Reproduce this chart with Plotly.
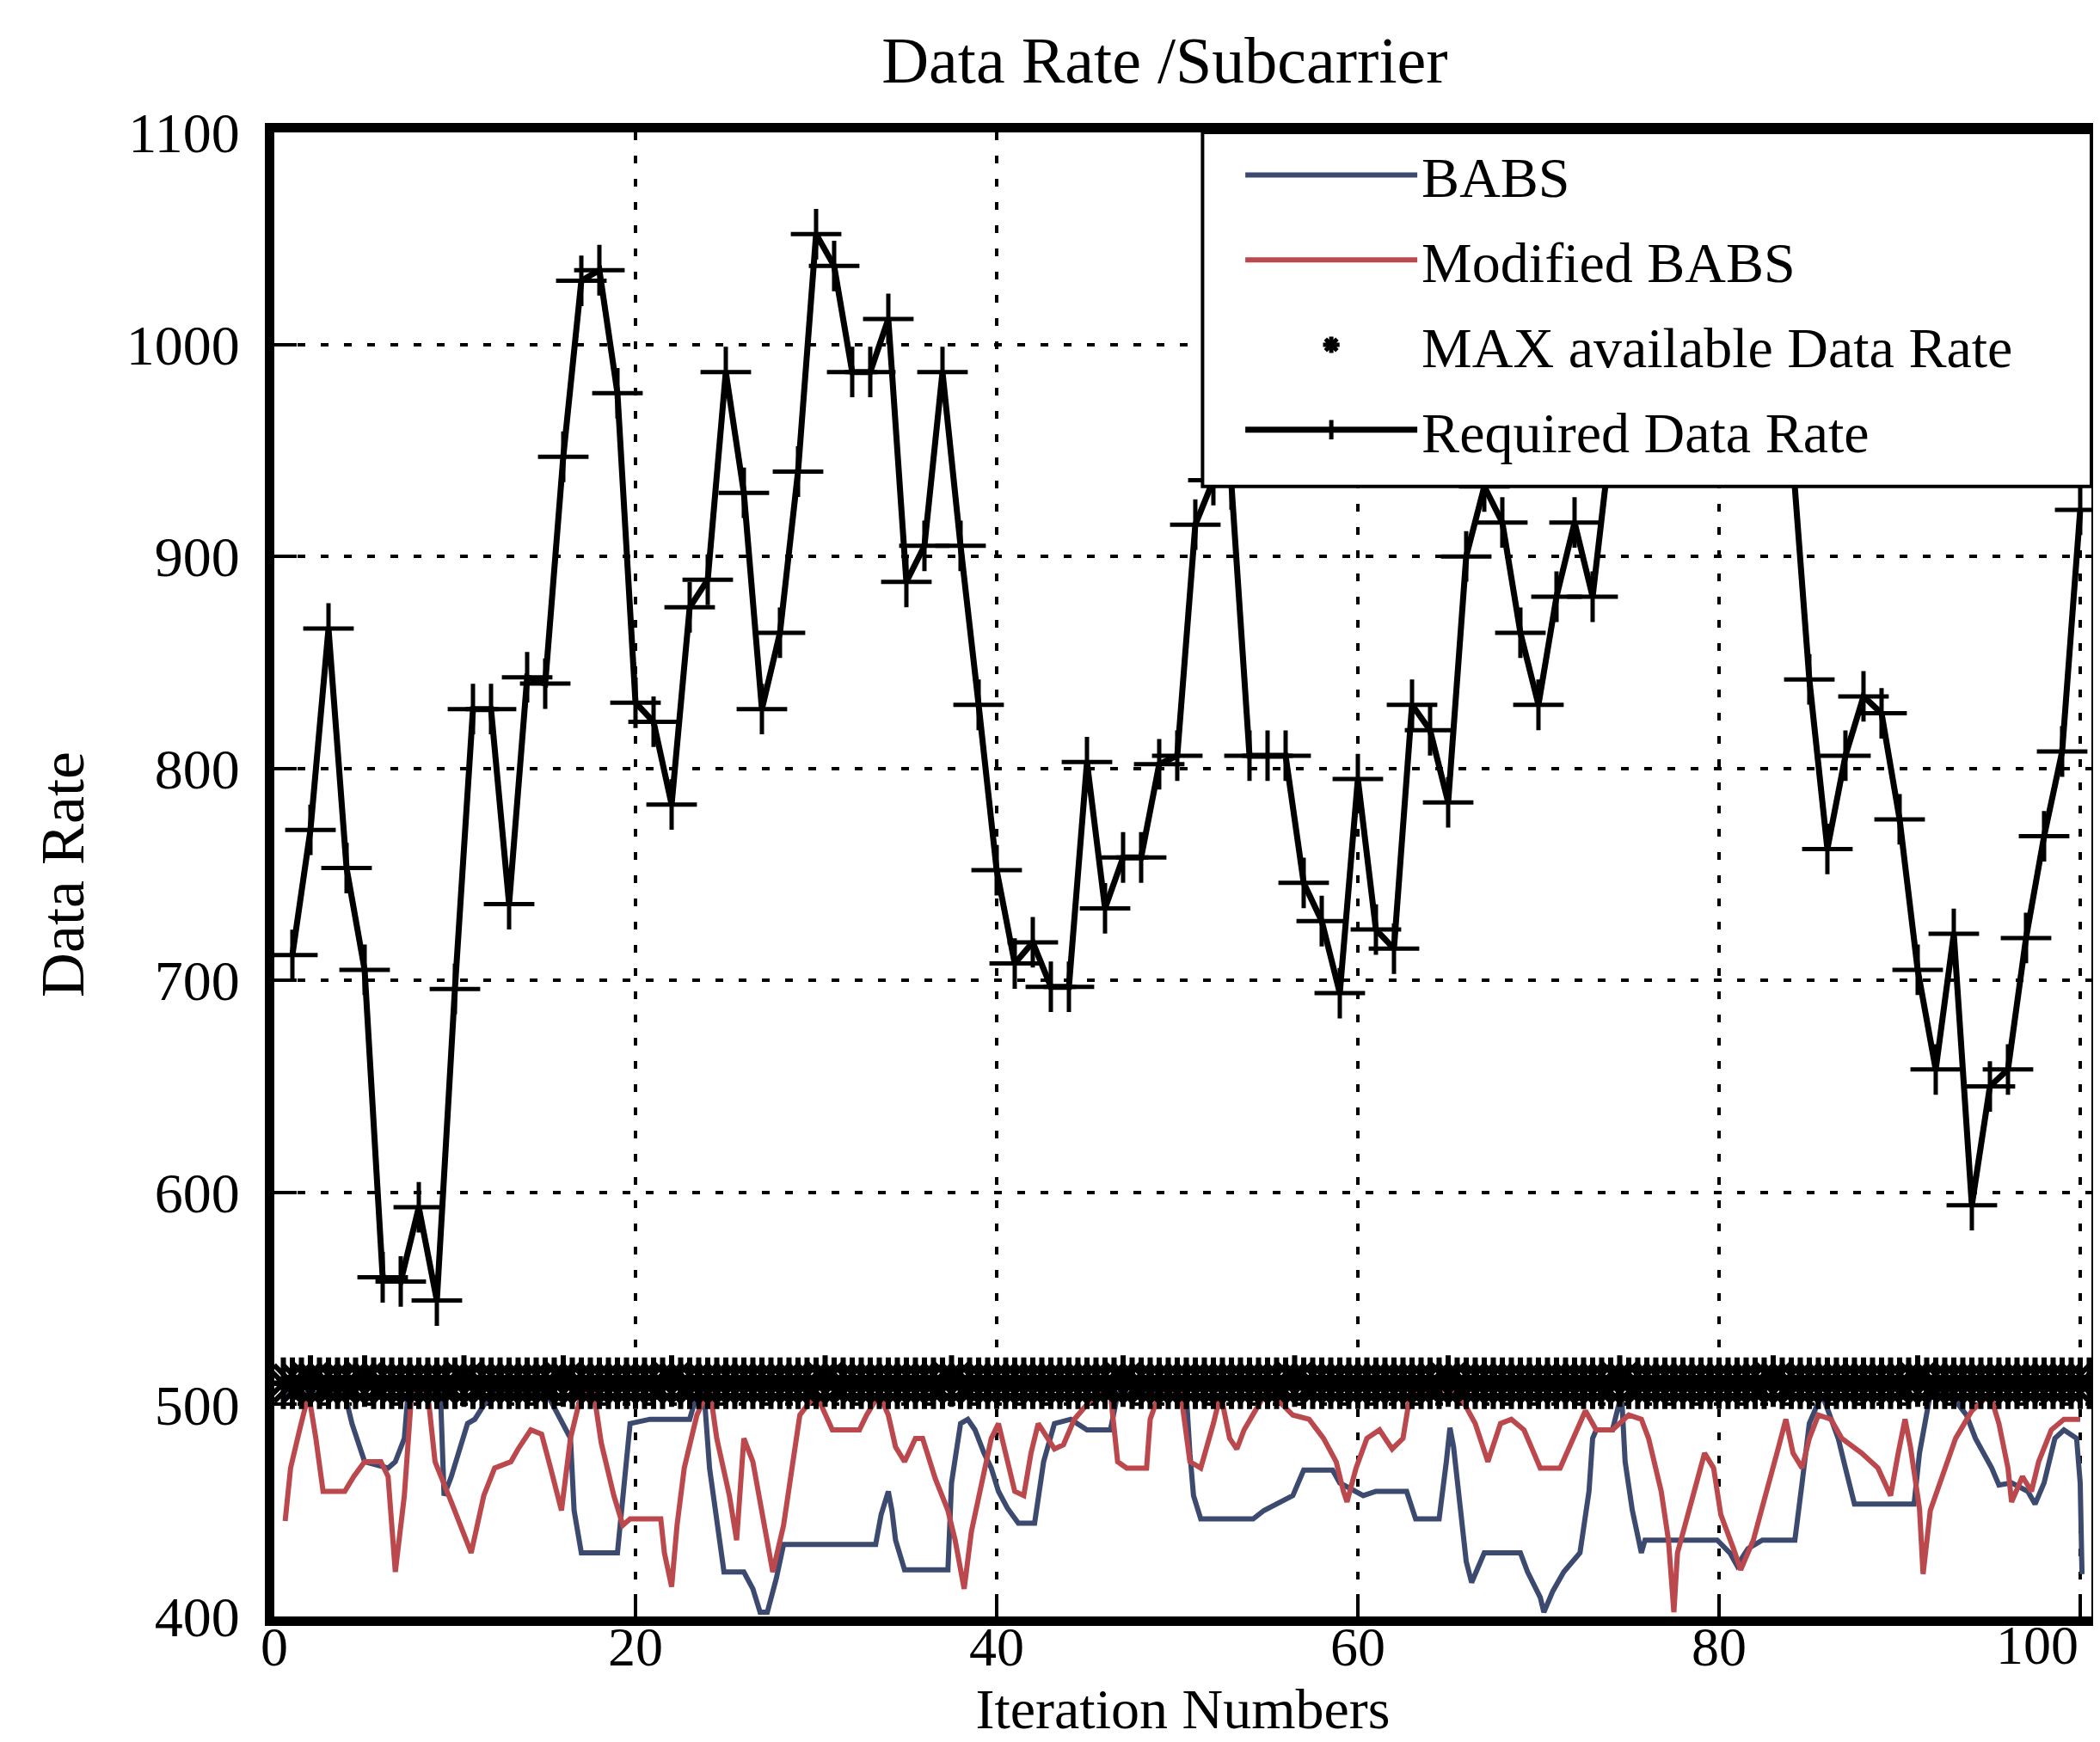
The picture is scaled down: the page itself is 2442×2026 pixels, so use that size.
import numpy as np
import plotly.graph_objects as go

# ---------------- data ----------------
iterations = list(range(1, 101))
required_rate = [712, 771, 866, 753, 705, 560, 558, 593, 549, 696,
                 828, 828, 736, 843, 840, 947, 1030, 1035, 977, 831,
                 822, 783, 876, 889, 987, 930, 828, 864, 940, 1052,
                 1037, 987, 987, 1012, 888, 905, 987, 905, 830, 752,
                 708, 718, 697, 697, 803, 734, 758, 758, 802, 806,
                 915, 936, 934, 806, 806, 806, 746, 728, 694, 795,
                 724, 715, 830, 818, 784, 900, 933, 916, 864, 830,
                 881, 916, 881, 955, 985, 1010, 975, 1000, 1025, 990,
                 965, 1000, 980, 955, 842, 762, 806, 834, 826, 776,
                 705, 658, 722, 594, 650, 658, 720, 768, 808, 922]

babs_x = [0.5, 3.9, 4.3, 5.0, 6.3, 6.7, 7.2, 7.4, 9.2, 9.4, 9.8, 10.2, 10.7, 11.1, 12.0, 15.1,
          16.4, 16.6, 17.0, 19.0, 19.5, 19.7, 20.8, 23.0, 23.4, 23.8, 24.1, 24.5, 24.9, 26.0,
          26.5, 26.9, 27.3, 27.8, 28.2, 33.3, 33.6, 34.0, 34.2, 34.4, 34.9, 37.3, 37.5, 38.0,
          38.4, 38.8, 39.3, 39.7, 40.1, 40.6, 41.2, 42.1, 42.4, 42.6, 43.2, 44.1, 45.0, 46.3,
          46.7, 50.5, 50.7, 50.9, 51.3, 54.2, 54.8, 55.5, 56.4, 57.0, 58.6, 59.0, 59.9, 60.3,
          61.0, 62.7, 63.2, 64.5, 64.9, 65.1, 65.3, 65.6, 66.0, 66.3, 66.9, 67.0, 69.0, 69.4,
          70.1, 70.3, 70.8, 71.4, 72.3, 72.8, 73.0, 73.2, 74.1, 74.6, 74.8, 75.2, 75.7, 75.9,
          79.9, 80.6, 81.0, 81.6, 82.4, 84.2, 84.6, 85.0, 85.7, 86.6, 87.0, 87.5, 90.8, 91.1,
          91.7, 92.8, 93.7, 94.2, 95.1, 95.5, 96.2, 97.1, 97.5, 98.0, 98.6, 99.1, 99.8, 100.0,
          100.1]
babs_rate = [505, 505, 491, 473, 470, 473, 484, 505, 505, 457, 466, 477, 491, 493, 505, 505,
             484, 450, 430, 430, 470, 491, 493, 493, 505, 505, 470, 444, 421, 421,
             413, 402, 402, 418, 434, 434, 448, 459, 450, 436, 422, 422, 463, 491,
             493, 488, 477, 470, 459, 451, 444, 444, 460, 473, 491, 493, 488, 488,
             505, 505, 477, 457, 446, 446, 450, 453, 457, 469, 469, 463, 459, 457,
             459, 459, 446, 446, 473, 489, 480, 457, 426, 416, 427, 430, 430, 421,
             409, 402, 412, 421, 430, 459, 484, 488, 488, 505, 473, 450, 430, 436,
             436, 430, 424, 432, 436, 436, 463, 491, 505, 484, 470, 453, 453, 477,
             505, 505, 495, 484, 470, 462, 463, 459, 453, 463, 484, 488, 484, 463,
             420]

mod_babs_x = [0.6, 0.9, 1.4, 1.9, 2.3, 2.7, 3.9, 4.4, 5.0, 5.9, 6.3, 6.7, 7.2, 7.6, 8.5, 8.9,
              9.8, 10.9, 11.6, 12.2, 13.1, 13.5, 14.2, 14.8, 15.3, 15.9, 16.4, 17.0, 17.7, 18.1,
              18.8, 19.3, 19.7, 21.4, 21.6, 22.0, 22.3, 22.7, 23.4, 24.1, 24.5, 25.2, 25.6, 26.0,
              26.5, 27.1, 27.6, 28.2, 28.7, 29.1, 30.0, 30.9, 32.4, 32.8, 33.5, 34.0, 34.4, 34.9,
              35.5, 35.9, 36.6, 37.3, 37.7, 38.2, 38.6, 39.05, 39.7, 40.1, 40.6, 41.0, 41.5, 41.9,
              42.3, 42.8, 43.2, 43.7, 44.3, 45.5, 46.3, 46.7, 47.2, 48.3, 48.5, 49.0, 50.2, 50.7,
              51.3, 52.0, 52.4, 52.9, 53.3, 53.7, 54.2, 55.0, 56.4, 57.3, 58.1, 58.8, 59.2, 59.4,
              59.9, 60.5, 61.2, 61.9, 62.5, 62.9, 64.7, 65.6, 66.5, 67.2, 67.9, 68.5, 69.2, 70.1,
              71.2, 71.9, 72.6, 73.2, 74.1, 75.0, 75.7, 76.1, 76.8, 77.2, 77.5, 77.7, 78.6, 79.2,
              79.7, 80.1, 80.8, 81.2, 81.9, 82.6, 83.3, 83.7, 84.1, 84.6, 85.0, 85.5, 86.2, 86.8,
              87.9, 88.8, 89.5, 89.9, 90.3, 90.6, 91.1, 91.3, 91.7, 92.4, 93.1, 94.0, 95.0, 95.5,
              96.0, 96.2, 96.8, 97.3, 97.7, 98.4, 99.1, 100.0]
mod_babs_rate = [445, 470, 488, 505, 484, 459, 459, 466, 473, 473, 466, 421, 457, 505, 505, 473,
                 454, 430, 457, 470, 473, 479, 488, 486, 470, 450, 484, 505, 505, 482,
                 457, 443, 446, 446, 430, 414, 443, 470, 495, 508, 484, 457, 436, 484,
                 473, 443, 421, 443, 470, 495, 505, 488, 488, 495, 505, 495, 480, 473,
                 484, 484, 465, 450, 436, 413, 440, 459, 484, 491, 473, 459, 457, 477,
                 491, 484, 479, 481, 493, 505, 505, 473, 470, 470, 493, 505, 505, 473,
                 470, 491, 505, 484, 479, 488, 495, 507, 495, 493, 484, 473, 459, 454,
                 470, 484, 488, 479, 484, 505, 507, 505, 491, 473, 491, 493, 488, 470,
                 470, 484, 497, 488, 488, 495, 493, 484, 459, 436, 402, 430, 457, 477,
                 470, 448, 432, 422, 436, 457, 480, 493, 477, 470, 484, 495, 493, 484,
                 477, 470, 457, 476, 493, 480, 451, 420, 450, 467, 484, 497, 505, 491,
                 470, 454, 466, 459, 473, 488, 493, 493]

# MAX available data rate, one reading every half iteration (0.5 ... 100.5)
max_x = list(np.arange(0.5, 100.51, 0.5))
max_rate = [
    510, 510, 510, 511, 510, 510, 510, 510, 510, 511, 510, 510, 510, 510, 510, 510, 510, 510, 510, 510,
    511, 510, 510, 510, 510, 510, 510, 510, 510, 510, 510, 511, 510, 510, 510, 510, 510, 510, 510, 510,
    510, 510, 510, 511, 510, 510, 510, 510, 510, 510, 510, 510, 510, 510, 510, 510, 510, 510, 510, 510,
    511, 510, 510, 510, 510, 510, 510, 510, 510, 510, 510, 510, 510, 510, 511, 510, 510, 510, 510, 510,
    510, 510, 510, 510, 510, 510, 510, 510, 510, 510, 510, 510, 510, 511, 510, 510, 510, 510, 510, 510,
    510, 510, 510, 510, 510, 510, 510, 510, 510, 510, 510, 510, 511, 510, 510, 510, 510, 510, 510, 510,
    510, 510, 510, 510, 510, 510, 510, 510, 510, 511, 510, 510, 510, 510, 510, 510, 510, 510, 510, 510,
    510, 510, 510, 510, 510, 510, 510, 510, 511, 510, 510, 510, 510, 510, 510, 510, 510, 510, 510, 510,
    510, 510, 510, 510, 510, 511, 510, 510, 510, 510, 510, 510, 510, 510, 510, 510, 510, 510, 510, 510,
    510, 511, 510, 510, 510, 510, 510, 510, 510, 510, 510, 510, 510, 510, 510, 510, 510, 510, 510, 510,
    510]

y_ticks = [400, 500, 600, 700, 800, 900, 1000, 1100]
y_tick_labels = ["400", "500", "600", "700", "800", "900", "1000", "1100"]
x_ticks = [0, 20, 40, 60, 80, 100]
x_tick_labels = ["0", "20", "40", "60", "80", ""]
last_x_label = "100"

# ---------------- figure ----------------
FONT = "Liberation Serif"
X_MAX = 100.62
fig = go.Figure()

fig.add_trace(go.Scatter(x=babs_x, y=babs_rate, mode="lines", name="BABS",
                         legendgroup="a", line=dict(color="#3c4a70", width=6)))
fig.add_trace(go.Scatter(x=mod_babs_x, y=mod_babs_rate, mode="lines", name="Modified BABS",
                         legendgroup="b", line=dict(color="#bb484c", width=6)))
fig.add_trace(go.Scatter(x=max_x, y=max_rate, mode="markers", name="MAX available Data Rate",
                         legendgroup="c",
                         marker=dict(symbol="asterisk-open", size=50, color="black",
                                     line=dict(color="black", width=6))))
fig.add_trace(go.Scatter(x=iterations, y=required_rate, mode="lines+markers",
                         name="Required Data Rate", legendgroup="d",
                         line=dict(color="black", width=7),
                         marker=dict(symbol="cross-thin-open", size=42, color="black",
                                     line=dict(color="black", width=5))))

axis_common = dict(
    showline=True, linecolor="black", linewidth=11, mirror=True,
    ticks="inside", ticklen=26, tickwidth=4, tickcolor="black",
    showgrid=True, gridcolor="black", gridwidth=4, griddash="9px,18px",
    zeroline=False, automargin=False,
)

fig.update_xaxes(range=[0, X_MAX], tickmode="array", tickvals=x_ticks, ticktext=x_tick_labels,
                 tickfont=dict(family=FONT, size=64, color="black"),
                 title=dict(text="Iteration Numbers", font=dict(family=FONT, size=66, color="black"),
                            standoff=0),
                 ticklabelstandoff=-31, **axis_common)
fig.update_yaxes(range=[400, 1100], tickmode="array", tickvals=y_ticks, ticktext=y_tick_labels,
                 tickfont=dict(family=FONT, size=66, color="black"),
                 title=dict(text="Data Rate", font=dict(family=FONT, size=72, color="black"),
                            standoff=30),
                 ticklabelstandoff=16, **axis_common)

# last x tick label sits right-aligned against the frame, as in the original
fig.add_annotation(x=100, xref="x", y=0, yref="paper", text=last_x_label, showarrow=False,
                   xanchor="right", yanchor="top", yshift=4,
                   font=dict(family=FONT, size=64, color="black"))

# opaque legend box (drawn above the data, like the original)
fig.add_shape(type="rect", xref="x", yref="y", x0=51.4, x1=X_MAX, y0=933, y1=1100,
              fillcolor="white", line=dict(color="black", width=4), layer="above")

fig.update_layout(
    width=2442, height=2026,
    margin=dict(l=311, r=18, t=146, b=154),
    paper_bgcolor="white", plot_bgcolor="white",
    title=dict(text="Data Rate /Subcarrier", font=dict(family=FONT, size=76, color="black"),
               x=0.49, xref="paper", xanchor="center", y=0.9695, yanchor="middle"),
    legend=dict(x=0.532, y=1.0, xanchor="left", yanchor="top",
                bgcolor="rgba(0,0,0,0)", borderwidth=0,
                font=dict(family=FONT, size=66, color="black"),
                itemwidth=200, tracegroupgap=10),
    showlegend=True,
)

fig.write_html("out.html")
